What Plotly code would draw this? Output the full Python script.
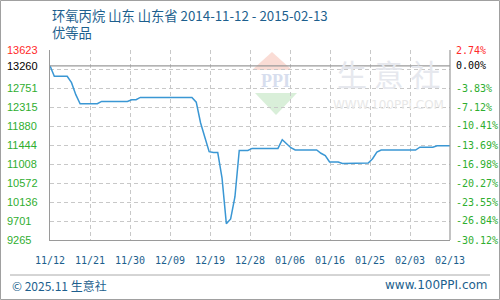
import plotly.graph_objects as go
import pandas as pd

# ---------------- data ----------------
start_date = "2014-11-12"
end_date = "2015-02-13"
prices = [13260, 13020, 13020, 13020, 13020, 12873, 12598, 12391,
          12391, 12391, 12391, 12391,
          12444, 12444, 12444, 12444, 12444, 12444, 12444,
          12483, 12483,
          12536, 12536, 12536, 12536, 12536, 12536, 12536, 12536, 12536, 12536, 12536, 12536, 12536,
          12426, 11955, 11623, 11290, 11274, 11270, 10683, 9640, 9747, 10258, 11320, 11320, 11320,
          11366, 11366, 11366, 11366, 11366, 11366, 11366,
          11565, 11462, 11382,
          11329, 11329, 11329, 11329, 11329, 11329,
          11254, 11203,
          11054, 11054, 11054,
          11022, 11022,
          11031, 11031, 11031, 11031, 11031,
          11130, 11279,
          11329, 11329, 11329, 11329, 11329, 11329, 11329, 11329, 11329,
          11394, 11394, 11394, 11394,
          11428, 11428, 11428, 11428]
x_tick_labels = ["11/12", "11/21", "11/30", "12/09", "12/19", "12/28",
                 "01/06", "01/16", "01/25", "02/03", "02/13"]
left_tick_values = [13623, 13260, 12751, 12315, 11880, 11444, 11008, 10572, 10136, 9701, 9265]
left_tick_labels = ["13623", "13260", "12751", "12315", "11880", "11444",
                    "11008", "10572", "10136", "9701", "9265"]
right_tick_labels = ["2.74%", "0.00%", "-3.83%", "-7.12%", "-10.41%", "-13.69%",
                     "-16.98%", "-20.27%", "-23.55%", "-26.84%", "-30.12%"]
base_price = 13260
y_min, y_max = 9265, 13623
title_line1 = "环氧丙烷 山东 山东省 2014-11-12 - 2015-02-13"
title_line2 = "优等品"
footer_left = "© 2025.11 生意社"
footer_right = "www.100PPI.com"

# ---------------- figure ----------------
dates = pd.date_range(start_date, periods=len(prices), freq="D")
t0 = pd.Timestamp(start_date)
t1 = pd.Timestamp(end_date)
n_int = len(x_tick_labels) - 1
tickvals = [t0 + (t1 - t0) * k / n_int for k in range(len(x_tick_labels))]
grid_vals = [y_min + (y_max - y_min) * k / 10 for k in range(11)]

W, H = 500, 300
L, R, T, B = 50, 450, 50, 240


def px(x):
    return (x - L) / (R - L)


def py(y):
    return (B - y) / (B - T)


fig = go.Figure()
fig.add_trace(go.Scatter(x=dates, y=prices, mode="lines",
                         line=dict(color="#3a97d4", width=1.5),
                         hoverinfo="skip", showlegend=False))

GREEN = "#2fae2f"
RED = "#ff2a2a"
BLUE = "#1d5f8e"

annotations = []
for i, (v, lab, rlab) in enumerate(zip(left_tick_values, left_tick_labels, right_tick_labels)):
    col = RED if i == 0 else ("#000000" if i == 1 else GREEN)
    annotations.append(dict(x=px(5), xref="paper", y=v, yref="y", text=lab,
                            xanchor="left", yanchor="middle", showarrow=False,
                            font=dict(family="Liberation Sans, Arial", size=11, color=col)))
    annotations.append(dict(x=px(454), xref="paper", y=v, yref="y", text=rlab,
                            xanchor="left", yanchor="middle", showarrow=False,
                            font=dict(family="DejaVu Sans Mono", size=10, color=col)))

annotations += [
    dict(x=px(50), xref="paper", y=py(24), yref="paper",
         text=title_line1 + "<br>" + title_line2, align="left",
         xanchor="left", yanchor="middle", showarrow=False,
         font=dict(family="Noto Sans CJK SC", size=13.3, color=BLUE)),
    dict(x=px(10), xref="paper", y=py(285), yref="paper", text=footer_left,
         xanchor="left", yanchor="middle", showarrow=False,
         font=dict(family="Noto Sans CJK SC", size=12, color=BLUE)),
    dict(x=px(490), xref="paper", y=py(285), yref="paper", text=footer_right,
         xanchor="right", yanchor="middle", showarrow=False,
         font=dict(family="DejaVu Sans", size=12, color=BLUE)),
    # watermark
    dict(x=px(388), xref="paper", y=py(73), yref="paper", text="生 意 社",
         xanchor="center", yanchor="middle", showarrow=False,
         font=dict(family="Noto Sans CJK SC", size=30, color="#e6e8ee")),
    dict(x=px(388), xref="paper", y=py(105), yref="paper", text="WWW.100PPI.COM",
         xanchor="center", yanchor="middle", showarrow=False,
         font=dict(family="DejaVu Sans", size=12, color="#e8e8e8")),
    dict(x=px(275), xref="paper", y=py(81), yref="paper", text="<b>PPI</b>",
         xanchor="center", yanchor="middle", showarrow=False,
         font=dict(family="Liberation Serif", size=18, color="#d7deee")),
]

shapes = [
    # watermark logo triangles
    dict(type="path", xref="paper", yref="paper", layer="below",
         path=f"M {px(272)} {py(52)} L {px(292)} {py(70)} L {px(252)} {py(70)} Z",
         fillcolor="#fadcd5", line=dict(width=0)),
    dict(type="path", xref="paper", yref="paper", layer="below",
         path=f"M {px(255)} {py(93)} L {px(297)} {py(93)} L {px(276)} {py(115)} Z",
         fillcolor="#d9efd9", line=dict(width=0)),
    # baseline (0%) solid line
    dict(type="line", xref="paper", yref="y", x0=0, x1=1, y0=base_price, y1=base_price,
         line=dict(color="#9a9a9a", width=1.2)),
    # right frame
    dict(type="line", xref="paper", yref="paper", x0=1, x1=1, y0=0, y1=1,
         line=dict(color="#9a9a9a", width=1.2)),
    # footer separator
    dict(type="line", xref="paper", yref="paper", x0=px(10), x1=px(490), y0=py(275), y1=py(275),
         line=dict(color="#aaaaaa", width=1)),
    # outer border
    dict(type="rect", xref="paper", yref="paper", x0=px(0.5), x1=px(499.5), y0=py(0.5), y1=py(299.5),
         line=dict(color="#a0a0a0", width=1)),
]

fig.update_layout(
    width=W, height=H,
    margin=dict(l=L, r=W - R, t=T, b=H - B, pad=0),
    paper_bgcolor="white", plot_bgcolor="white",
    showlegend=False,
    annotations=annotations,
    shapes=shapes,
    xaxis=dict(type="date", range=[t0, t1], tickvals=tickvals, ticktext=x_tick_labels,
               showgrid=True, gridcolor="#c8c8c8", griddash="4px,3px", gridwidth=1,
               showline=True, linecolor="#9a9a9a", linewidth=1.2, ticks="",
               tickfont=dict(family="DejaVu Sans Mono", size=10, color=BLUE),
               ticklabelstandoff=11, zeroline=False, fixedrange=True),
    yaxis=dict(range=[y_min, y_max], tickvals=grid_vals, showticklabels=False,
               showgrid=True, gridcolor="#c8c8c8", griddash="4px,3px", gridwidth=1,
               showline=True, linecolor="#9a9a9a", linewidth=1.2, ticks="",
               zeroline=False, fixedrange=True),
)

fig.write_html("out.html")
